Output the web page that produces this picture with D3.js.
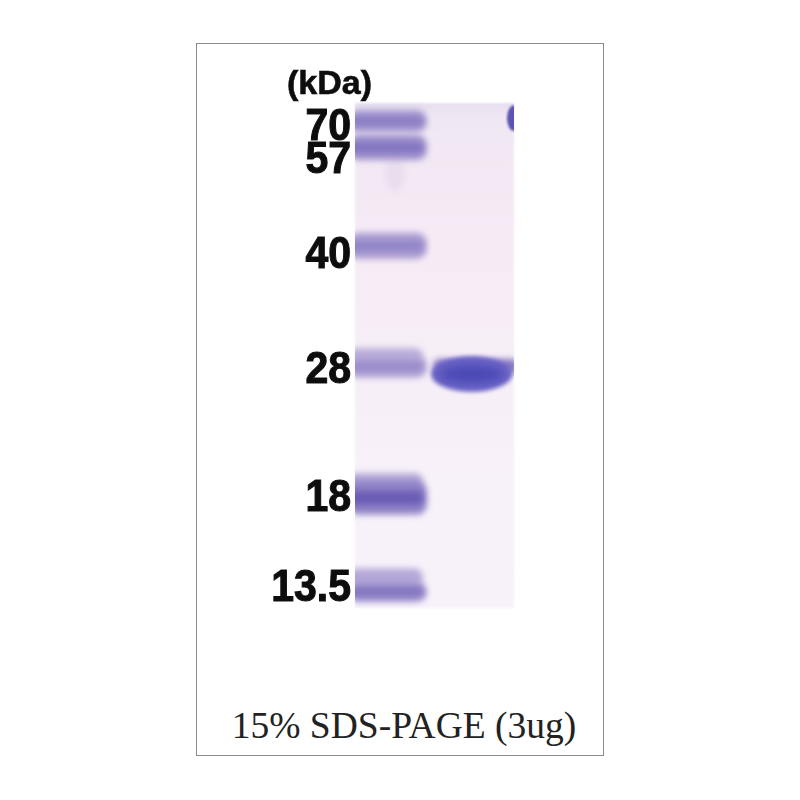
<!DOCTYPE html>
<html>
<head>
<meta charset="utf-8">
<style>
  html, body { margin: 0; background: #fff; }
  svg { display: block; }
</style>
<script src="https://cdn.jsdelivr.net/npm/d3@7.9.0/dist/d3.min.js"></script>
</head>
<body>
<svg id="gel" width="800" height="800"></svg>
<script>
// marker sizes and how far each one ran down the gel (0 = top, 1 = bottom)
const markerLabels = ['70', '57', '40', '28', '18', '13.5'];
const markerLabelRf = [0.042, 0.107, 0.295, 0.523, 0.777, 0.955];
const markerBandRf = [0.036, 0.088, 0.283, 0.522, 0.782, 0.968];
const markerBandThick = [0.044, 0.05, 0.052, 0.044, 0.066, 0.04];
const markerBandInk = [0.7, 0.76, 0.64, 0.6, 0.92, 0.76];
// faint smear above the lowest markers
const smearRf = [0.5, 0.75, 0.94];
const smearThick = [0.03, 0.034, 0.036];
const smearInk = [0.34, 0.42, 0.4];
// sample lane
const sampleRf = 0.533;
const sampleThick = 0.042;

const lanes = ['marker', 'sample'];

const svg = d3.select('#gel');
const defs = svg.append('defs');

const addBlur = (id, dev) => defs.append('filter').attr('id', id)
  .attr('x', '-30%').attr('y', '-80%').attr('width', '160%').attr('height', '260%')
  .append('feGaussianBlur').attr('stdDeviation', dev);
addBlur('wide', 5);
addBlur('soft', 3);
addBlur('tight', 2);
addBlur('edge', 1.2);
addBlur('text', 0.6);

const bg = defs.append('linearGradient').attr('id', 'gelBg').attr('x2', 0).attr('y2', 1);
[[0, '#e7dfef'], [0.03, '#f0e7f3'], [0.3, '#f6ebf5'], [0.7, '#f8f1f9'], [1, '#f7f2fa']]
  .forEach(([o, c]) => bg.append('stop').attr('offset', o).attr('stop-color', c));

defs.append('clipPath').attr('id', 'gelClip').append('rect')
  .attr('x', 355).attr('y', 103).attr('width', 159).attr('height', 505);

// frame
svg.append('rect').attr('x', 196.5).attr('y', 43.5).attr('width', 407).attr('height', 712)
  .attr('fill', '#fff').attr('stroke', '#8a8a8a').attr('stroke-width', 1);

const y = d3.scaleLinear().domain([0, 1]).range([103, 608]);
const x = d3.scaleBand().domain(lanes).range([356, 512]).paddingInner(0.03);
const thick = d3.scaleLinear().domain([0, 1]).range([0, 505]);
const ink = d3.interpolateRgb('#eee3f1', '#5f4fb0');

svg.append('rect').attr('x', 355).attr('y', 103).attr('width', 159).attr('height', 505)
  .attr('fill', 'url(#gelBg)').attr('filter', 'url(#edge)');

const gel = svg.append('g').attr('clip-path', 'url(#gelClip)');

// pale streak under the 57 band
gel.append('ellipse')
  .attr('cx', x('marker') + 39).attr('cy', y(0.14))
  .attr('rx', 10).attr('ry', 18)
  .attr('fill', '#e9deee').attr('filter', 'url(#soft)');

// smears
gel.selectAll('.smear').data(smearRf).join('rect')
  .attr('class', 'smear')
  .attr('x', x('marker') - 8)
  .attr('width', x.bandwidth() - 2)
  .attr('y', (d, i) => y(d) - thick(smearThick[i]) / 2)
  .attr('height', (d, i) => thick(smearThick[i]))
  .attr('rx', 8)
  .attr('fill', (d, i) => ink(smearInk[i]))
  .attr('filter', 'url(#soft)');

// ladder: soft halo then a darker core
gel.selectAll('.halo').data(markerBandRf).join('rect')
  .attr('class', 'halo')
  .attr('x', x('marker') - 8)
  .attr('width', x.bandwidth() + 2)
  .attr('y', (d, i) => y(d) - thick(markerBandThick[i]) / 2)
  .attr('height', (d, i) => thick(markerBandThick[i]))
  .attr('rx', 10)
  .attr('fill', (d, i) => ink(markerBandInk[i] * 0.72))
  .attr('filter', 'url(#soft)');

gel.selectAll('.core').data(markerBandRf).join('rect')
  .attr('class', 'core')
  .attr('x', x('marker') - 8)
  .attr('width', x.bandwidth() - 2)
  .attr('y', (d, i) => y(d) - thick(markerBandThick[i]) * 0.2)
  .attr('height', (d, i) => thick(markerBandThick[i]) * 0.4)
  .attr('rx', 5)
  .attr('fill', (d, i) => ink(markerBandInk[i]))
  .attr('filter', 'url(#soft)');

// sample band: flat pale top, heavy rounded belly
const sx = x('sample');
const sw = x.bandwidth();
gel.append('rect')
  .attr('x', sx - 2).attr('width', sw + 8)
  .attr('y', y(sampleRf) - thick(sampleThick) * 0.62)
  .attr('height', thick(sampleThick) * 0.7)
  .attr('rx', 6)
  .attr('fill', ink(0.72)).attr('filter', 'url(#soft)');
gel.append('ellipse')
  .attr('cx', sx + sw / 2 - 2).attr('cy', y(sampleRf) + 2)
  .attr('rx', sw / 2 + 2).attr('ry', thick(sampleThick) * 0.5 + 7)
  .attr('fill', '#6a63c6').attr('filter', 'url(#tight)');
gel.append('ellipse')
  .attr('cx', sx + sw / 2 - 2).attr('cy', y(sampleRf) + 2)
  .attr('rx', sw / 2 - 6).attr('ry', 9)
  .attr('fill', '#4c4ab6').attr('filter', 'url(#wide)');

// stray spot from the neighbouring lane, top right corner
gel.append('ellipse')
  .attr('cx', x.range()[1] + 2).attr('cy', y(0.03))
  .attr('rx', 7).attr('ry', 13)
  .attr('fill', '#5a54b0').attr('filter', 'url(#edge)');

// labels are tall and a bit smeared in the scan
const labels = svg.append('g').attr('filter', 'url(#text)')
  .attr('font-family', '"Liberation Sans", Arial, sans-serif')
  .attr('font-weight', 700)
  .attr('fill', '#111')
  .attr('stroke', '#111');

labels.selectAll('.marker-label').data(markerLabels).join('text')
  .attr('class', 'marker-label')
  .attr('text-anchor', 'end')
  .attr('font-size', 41)
  .attr('stroke-width', 1)
  .attr('transform', (d, i) => `translate(351,${y(markerLabelRf[i]) + 16}) scale(1,1.08)`)
  .text((d) => d);

labels.append('text')
  .attr('transform', 'translate(372,94)')
  .attr('text-anchor', 'end')
  .attr('font-size', 34)
  .attr('stroke-width', 0.6)
  .text('(kDa)');

svg.append('text')
  .attr('x', 404).attr('y', 738)
  .attr('text-anchor', 'middle')
  .attr('font-family', '"Liberation Serif", "Times New Roman", serif')
  .attr('font-size', 37.5)
  .attr('fill', '#222')
  .text('15% SDS-PAGE (3ug)');
</script>
</body>
</html>
